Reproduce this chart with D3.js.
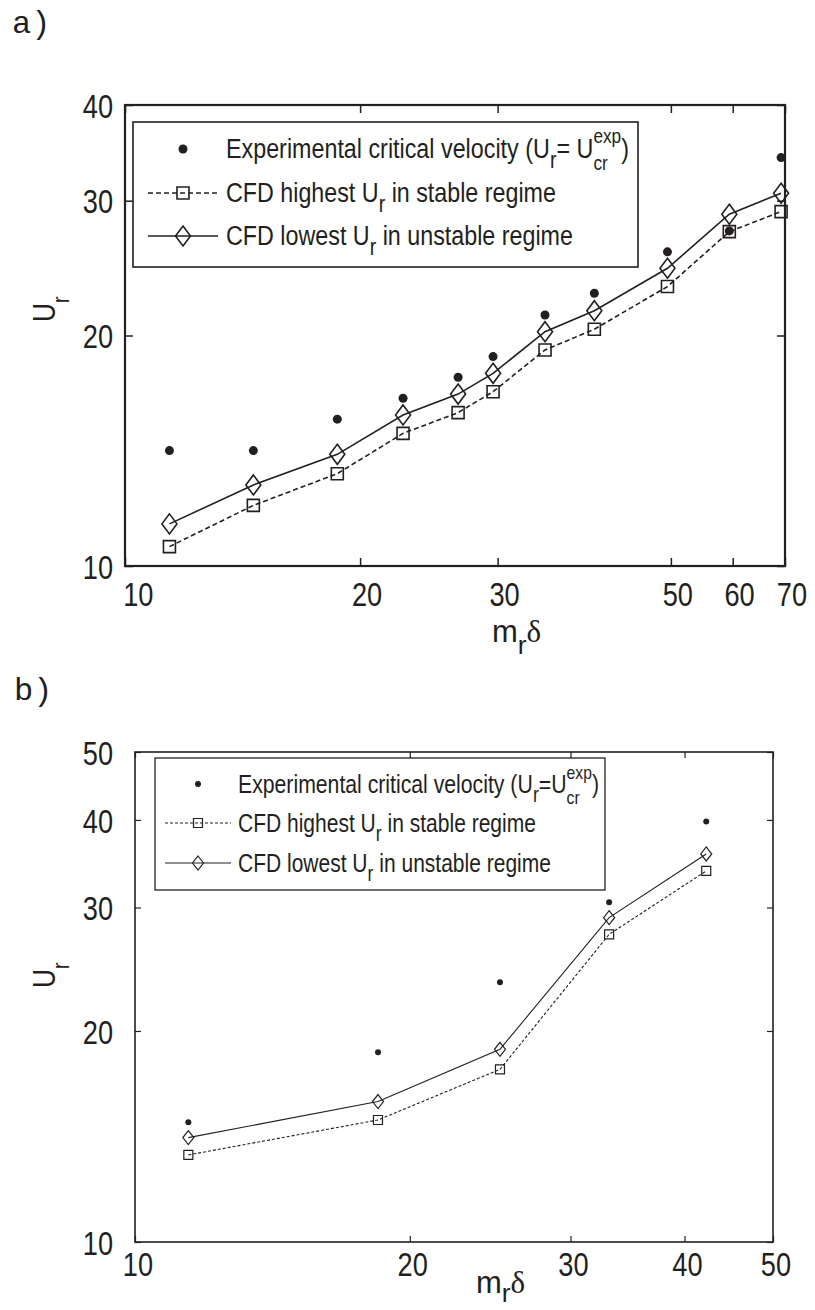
<!DOCTYPE html>
<html>
<head>
<meta charset="utf-8">
<script src="https://cdn.jsdelivr.net/npm/d3@7"></script>
<style>
  body { margin: 0; background: #fff; }
  svg text { font-family: "Liberation Sans", Arial, sans-serif; fill: #231f20; white-space: pre; }
</style>
</head>
<body>
<div id="chart"></div>
<script>
// ---- panel a data ----
var aMass     = [11.4, 14.6, 18.7, 22.7, 26.7, 29.6, 34.5, 39.9, 49.5, 59.4, 69.2];
var aExp      = [14.15, 14.15, 15.55, 16.56, 17.64, 18.77, 21.27, 22.71, 25.72, 27.39, 34.15];
var aStable   = [10.6, 12.0, 13.2, 14.9, 15.86, 16.89, 19.15, 20.38, 23.17, 27.33, 29.03];
var aUnstable = [11.35, 12.76, 13.99, 15.75, 16.77, 17.85, 20.23, 21.55, 24.48, 28.8, 30.68];
var aXTicks = [10, 20, 30, 50, 60, 70];
var aYTicks = [10, 20, 30, 40];

// ---- panel b data ----
var bMass     = [11.44, 18.46, 25.11, 33.07, 42.25];
var bExp      = [14.82, 18.65, 23.47, 30.52, 39.78];
var bStable   = [13.31, 14.93, 17.63, 27.47, 33.83];
var bUnstable = [14.09, 15.86, 18.83, 29.02, 35.77];
var bXTicks = [10, 20, 30, 40, 50];
var bYTicks = [10, 20, 30, 40, 50];

// legend text runs
var legendA = [
  [{t: "Experimental critical velocity (U"}, {t: "r", sub: 1}, {t: "= U"}, {sup: "exp", sub: "cr"}, {t: ")"}],
  [{t: "CFD highest U"}, {t: "r", sub: 1}, {t: " in stable regime"}],
  [{t: "CFD lowest U"}, {t: "r", sub: 1}, {t: " in unstable regime"}]
];
var legendB = [
  [{t: "Experimental critical velocity (U"}, {t: "r", sub: 1}, {t: "=U"}, {sup: "exp", sub: "cr"}, {t: ")"}],
  [{t: "CFD highest U"}, {t: "r", sub: 1}, {t: " in stable regime"}],
  [{t: "CFD lowest U"}, {t: "r", sub: 1}, {t: " in unstable regime"}]
];

var ink = "#231f20";
var width = 815, height = 1310;

var svg = d3.select("#chart").append("svg")
  .attr("width", width)
  .attr("height", height);

function richText(parent, x, y, runs, size, opts) {
  opts = opts || {};
  var g = parent.append("g");
  var inner = g.append("g");
  var cx = 0;
  runs.forEach(function(r) {
    if (r.sup !== undefined) {
      var a = inner.append("text").attr("x", cx).attr("y", -size * 0.54)
        .style("font-size", size * 0.74 + "px").text(r.sup);
      var b = inner.append("text").attr("x", cx).attr("y", size * 0.42)
        .style("font-size", size * 0.74 + "px").text(r.sub);
      cx += Math.max(a.node().getComputedTextLength(), b.node().getComputedTextLength());
    } else {
      var t = inner.append("text").attr("x", cx)
        .attr("y", r.sub ? size * (opts.subDy || 0.36) : 0)
        .style("font-size", (r.sub ? size * (opts.subScale || 0.84) : size) + "px")
        .text(r.t);
      if (r.serif) t.style("font-family", "'Liberation Serif', 'Times New Roman', serif");
      cx += t.node().getComputedTextLength();
    }
  });
  var sx = opts.width ? opts.width / cx : (opts.sx || 1);
  g.attr("transform", "translate(" + x + "," + y + ")" +
    (opts.rotate ? " rotate(" + opts.rotate + ")" : "") + " scale(" + sx + ",1)");
  return g;
}

function diamondPath(w, h) {
  return "M0," + (-h / 2) + "L" + (w / 2) + ",0L0," + (h / 2) + "L" + (-w / 2) + ",0Z";
}
function squarePath(s) {
  return "M" + (-s / 2) + "," + (-s / 2) + "h" + s + "v" + s + "h" + (-s) + "Z";
}

function drawPanel(p) {
  var x = d3.scaleLog().domain(p.xDomain).range([p.left, p.right]);
  var y = d3.scaleLog().domain(p.yDomain).range([p.bottom, p.top]);
  var g = svg.append("g");

  // panel letter
  g.append("text").attr("x", p.letterX).attr("y", p.letterY)
    .style("font-family", "'Liberation Mono', 'Courier New', monospace")
    .style("font-size", "32px").text(p.letter);

  // axes with inward ticks on all four sides
  var bottom = g.append("g").attr("transform", "translate(0," + p.bottom + ")")
    .call(d3.axisBottom(x).tickValues(p.xTicks).tickFormat(d3.format("d"))
      .tickSizeInner(-p.tick).tickSizeOuter(0));
  bottom.selectAll("text")
    .attr("y", p.xLabY).attr("dy", 0)
    .attr("dx", function(d, i) { return i === 0 ? p.xLabDx0 : p.xLabDx; })
    .attr("transform", "scale(" + p.tickSx + ",1)")
    .style("font-size", p.tickSize + "px").style("font-family", null);
  var top = g.append("g").attr("transform", "translate(0," + p.top + ")")
    .call(d3.axisTop(x).tickValues(p.xTicks).tickFormat("").tickSizeInner(-p.tick).tickSizeOuter(0));
  var left = g.append("g").attr("transform", "translate(" + p.left + ",0)")
    .call(d3.axisLeft(y).tickValues(p.yTicks).tickFormat(d3.format("d"))
      .tickSizeInner(-p.tick).tickSizeOuter(0));
  left.selectAll("text")
    .attr("x", -p.yLabGap / p.tickSx).attr("dy", "0.36em")
    .attr("transform", "scale(" + p.tickSx + ",1)")
    .style("font-size", p.tickSize + "px").style("font-family", null);
  var right = g.append("g").attr("transform", "translate(" + p.right + ",0)")
    .call(d3.axisRight(y).tickValues(p.yTicks).tickFormat("").tickSizeInner(-p.tick).tickSizeOuter(0));
  [bottom, top, left, right].forEach(function(a) {
    a.select(".domain").remove();
    a.selectAll("line").attr("stroke", ink).attr("stroke-width", p.tickW);
  });

  // frame
  g.append("rect")
    .attr("x", p.left).attr("y", p.top)
    .attr("width", p.right - p.left).attr("height", p.bottom - p.top)
    .attr("fill", "none").attr("stroke", ink).attr("stroke-width", p.frameW);

  var line = d3.line()
    .x(function(d) { return x(d[0]); })
    .y(function(d) { return y(d[1]); });

  var stable = d3.zip(p.mass, p.stable);
  var unstable = d3.zip(p.mass, p.unstable);
  var exp = d3.zip(p.mass, p.exp);

  g.append("path").datum(stable).attr("d", line)
    .attr("fill", "none").attr("stroke", ink).attr("stroke-width", p.lineW)
    .attr("stroke-dasharray", p.dash);
  g.append("path").datum(unstable).attr("d", line)
    .attr("fill", "none").attr("stroke", ink).attr("stroke-width", p.lineW);

  g.selectAll(".sq").data(stable).enter().append("path")
    .attr("class", "sq")
    .attr("transform", function(d) { return "translate(" + x(d[0]) + "," + y(d[1]) + ")"; })
    .attr("d", squarePath(p.sq))
    .attr("fill", "none").attr("stroke", ink).attr("stroke-width", p.markW);
  g.selectAll(".dm").data(unstable).enter().append("path")
    .attr("class", "dm")
    .attr("transform", function(d) { return "translate(" + x(d[0]) + "," + y(d[1]) + ")"; })
    .attr("d", diamondPath(p.dmW, p.dmH))
    .attr("fill", "none").attr("stroke", ink).attr("stroke-width", p.markW);
  g.selectAll(".dot").data(exp).enter().append("circle")
    .attr("class", "dot")
    .attr("cx", function(d) { return x(d[0]); })
    .attr("cy", function(d) { return y(d[1]); })
    .attr("r", p.dotR).attr("fill", ink);

  // legend
  var L = p.legend;
  g.append("rect").attr("x", L.x0).attr("y", L.y0)
    .attr("width", L.x1 - L.x0).attr("height", L.y1 - L.y0)
    .attr("fill", "#fff").attr("stroke", ink).attr("stroke-width", p.legendW);
  var mx = (L.lx0 + L.lx1) / 2;
  // row 1: dot
  g.append("circle").attr("cx", mx).attr("cy", L.rows[0] - L.mOff).attr("r", p.dotR).attr("fill", ink);
  // row 2: dashed + square
  g.append("line").attr("x1", L.lx0).attr("x2", L.lx1)
    .attr("y1", L.rows[1] - L.mOff).attr("y2", L.rows[1] - L.mOff)
    .attr("stroke", ink).attr("stroke-width", p.lineW).attr("stroke-dasharray", p.dash);
  g.append("path").attr("transform", "translate(" + mx + "," + (L.rows[1] - L.mOff) + ")")
    .attr("d", squarePath(p.sq)).attr("fill", "none").attr("stroke", ink).attr("stroke-width", p.markW);
  // row 3: solid + diamond
  g.append("line").attr("x1", L.lx0).attr("x2", L.lx1)
    .attr("y1", L.rows[2] - L.mOff).attr("y2", L.rows[2] - L.mOff)
    .attr("stroke", ink).attr("stroke-width", p.lineW);
  g.append("path").attr("transform", "translate(" + mx + "," + (L.rows[2] - L.mOff) + ")")
    .attr("d", diamondPath(p.dmW, p.dmH)).attr("fill", "none").attr("stroke", ink).attr("stroke-width", p.markW);

  p.legendText.forEach(function(runs, i) {
    richText(g, L.tx, L.rows[i], runs, L.size, {width: L.widths[i]});
  });

  // axis titles
  richText(g, p.xt[0], p.xt[1],
    [{t: "m"}, {t: "r", sub: 1}, {t: "δ", serif: 1}], 31, {subDy: p.xtSubDy, subScale: 0.85});
  richText(g, p.yt[0], p.yt[1],
    [{t: "U"}, {t: "r", sub: 1}], 31, {rotate: -90, sx: 0.85, subDy: 0.45, subScale: 0.75});
}

drawPanel({
  letter: "a)", letterX: 12, letterY: 33,
  left: 125, right: 785, top: 105, bottom: 566,
  xDomain: [10, 70], yDomain: [10, 40],
  xTicks: aXTicks, yTicks: aYTicks,
  mass: aMass, exp: aExp, stable: aStable, unstable: aUnstable,
  tick: 8, tickW: 1.5, frameW: 2.2, lineW: 1.6, markW: 1.6, legendW: 1.6,
  dash: "5,3", sq: 12, dmW: 15, dmH: 20, dotR: 4.5,
  tickSize: 34, tickSx: 0.8, xLabY: 40, xLabDx: 8, xLabDx0: 16, yLabGap: 12,
  legend: {x0: 133, x1: 638, y0: 122, y1: 267, lx0: 148, lx1: 218, tx: 226,
    rows: [158, 202, 245], mOff: 9, size: 28, widths: [403, 330, 347]},
  legendText: legendA,
  xt: [492, 642], xtSubDy: 0.4, yt: [55, 322]
});

drawPanel({
  letter: "b)", letterX: 14, letterY: 700,
  left: 135, right: 773, top: 752, bottom: 1242,
  xDomain: [10, 50], yDomain: [10, 50],
  xTicks: bXTicks, yTicks: bYTicks,
  mass: bMass, exp: bExp, stable: bStable, unstable: bUnstable,
  tick: 6, tickW: 1.2, frameW: 1.6, lineW: 1.1, markW: 1.2, legendW: 1.3,
  dash: "3,2", sq: 9, dmW: 11, dmH: 14, dotR: 3,
  tickSize: 34, tickSx: 0.8, xLabY: 34, xLabDx: 3, xLabDx0: 3, yLabGap: 22,
  legend: {x0: 155, x1: 605, y0: 758, y1: 890, lx0: 165, lx1: 231, tx: 238,
    rows: [793, 832, 872], mOff: 9, size: 26, widths: [361, 298, 313]},
  legendText: legendB,
  xt: [476, 1293], xtSubDy: 0.3, yt: [55, 988]
});
</script>
</body>
</html>
